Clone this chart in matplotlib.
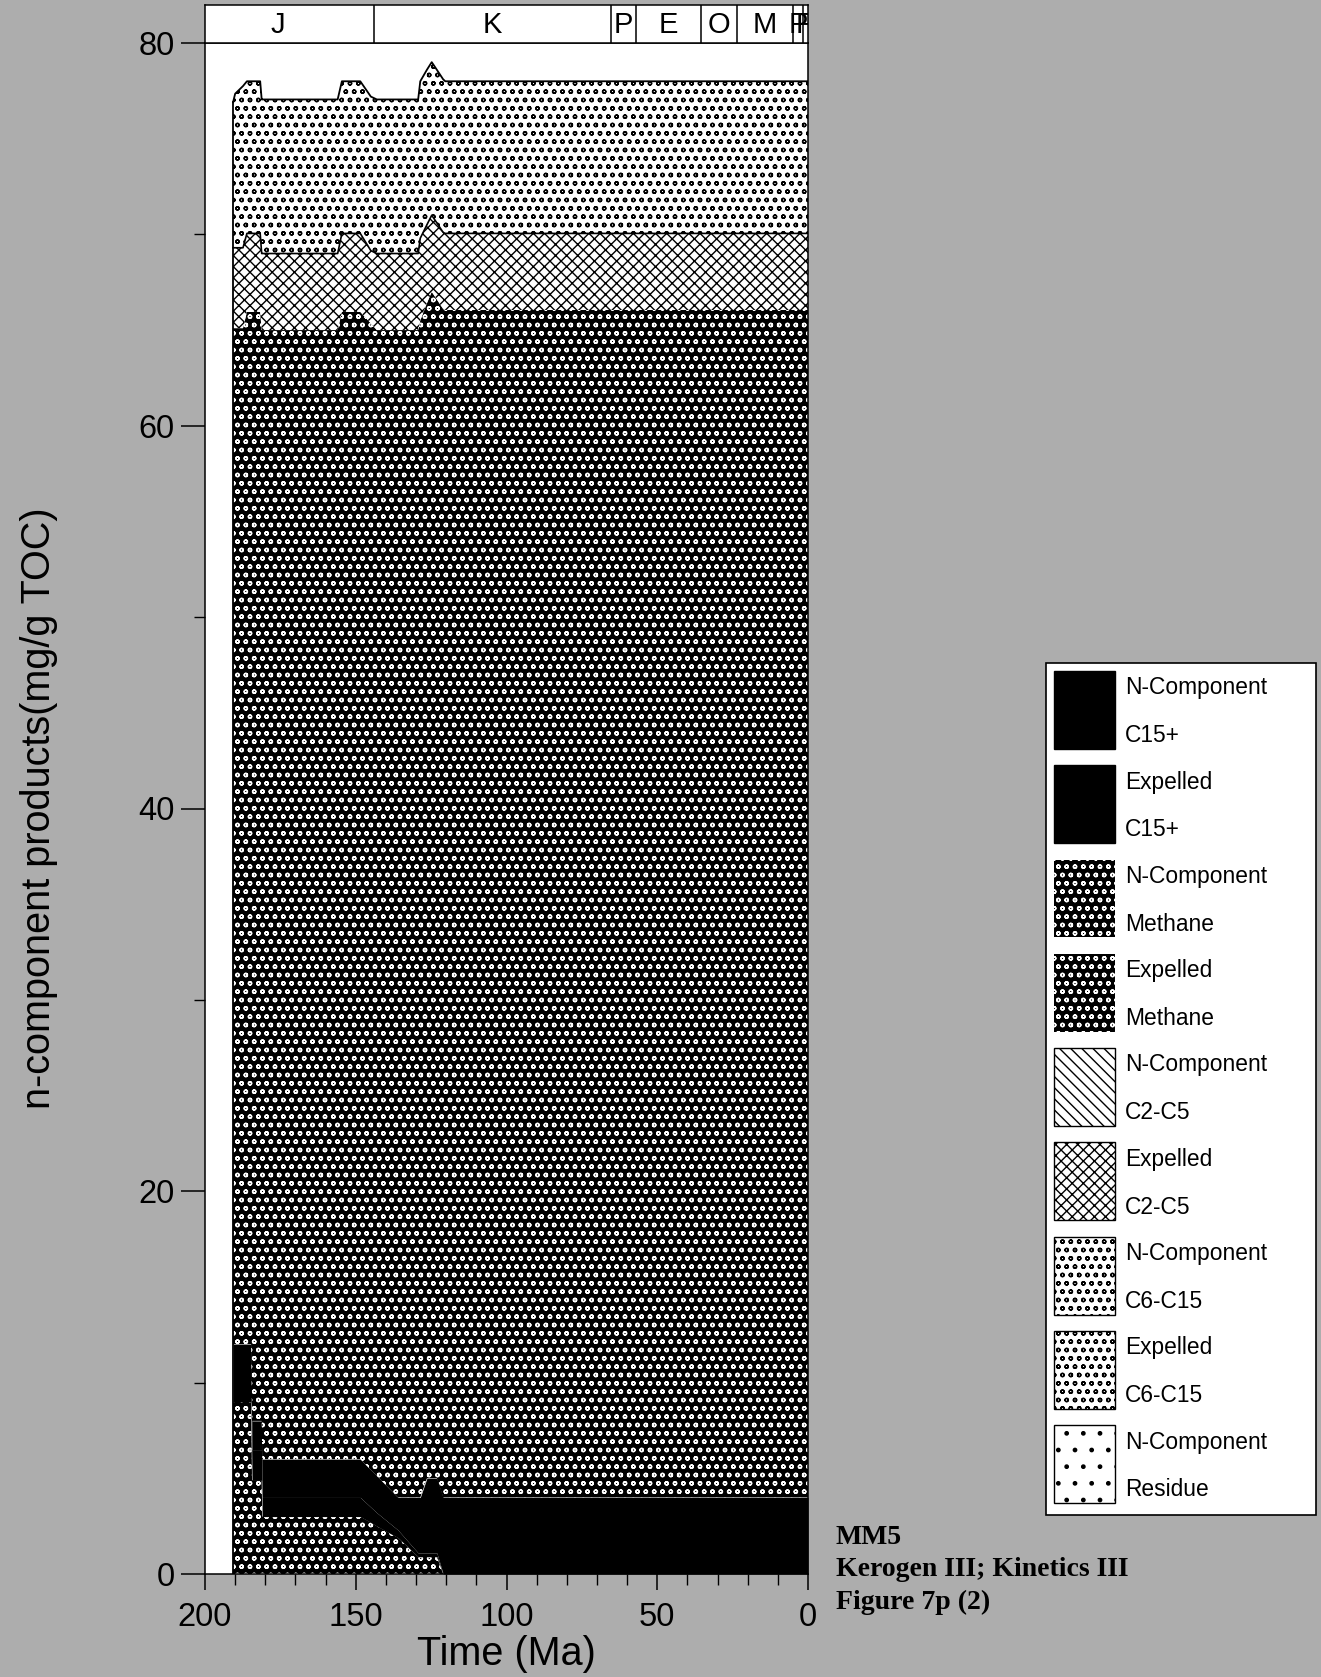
import numpy as np
import matplotlib
matplotlib.use("Agg")
import matplotlib.pyplot as plt
from matplotlib.patches import Patch, Rectangle
from matplotlib.legend_handler import HandlerPatch
from matplotlib.ticker import MultipleLocator

W, H = 1321, 1677
BG = "#adadad"

plt.rcParams["font.family"] = ["Liberation Sans", "DejaVu Sans"]
plt.rcParams["hatch.linewidth"] = 1.0

# ---------------------------------------------------------------- data
# burial time nodes (Ma before present)
time_ma = np.array([190.7, 190.0, 187.4, 186.1, 184.7, 184.4, 181.7, 181.2,
                    181.0, 156.0, 154.6, 148.5, 145.0, 143.0, 136.0, 129.3,
                    128.6, 126.4, 124.8, 123.1, 121.0, 120.3, 0.0])

# product amounts per component (mg/g TOC), stacked bottom -> top
ncomp_methane = np.array([9.0, 9.0, 9.0, 9.0, 9.0, 4.9, 4.9, 4.9,
                          3.0, 3.0, 3.0, 3.0, 2.69, 2.5, 1.9, 0.9,
                          0.9, 0.9, 0.9, 0.9, 0.0, 0.0, 0.0])
ncomp_c15 = np.array([3.0, 3.0, 3.0, 3.0, 3.0, 1.6, 1.6, 1.6,
                      1.0, 1.0, 1.0, 1.0, 0.8, 0.7, 0.4, 0.2,
                      0.2, 0.2, 0.2, 0.2, 0.0, 0.0, 0.0])
expelled_c15 = np.array([0.0, 0.0, 0.0, 0.0, 0.0, 1.5, 1.5, 1.5,
                         2.0, 2.0, 2.0, 2.0, 1.95, 1.92, 1.7, 2.9,
                         2.9, 3.9, 3.9, 3.9, 4.0, 4.0, 4.0])
expelled_methane = np.array([53.1, 53.1, 53.1, 53.95, 53.95, 57.95, 57.95, 57.0,
                             59.0, 59.0, 59.95, 59.95, 59.91, 59.88, 61.0, 61.0,
                             61.5, 61.4, 62.0, 61.6, 62.1, 62.05, 62.05])
expelled_c2c5 = np.array([4.2, 4.2, 4.2, 4.1, 4.1, 4.1, 4.1, 4.0,
                          4.0, 4.0, 4.1, 4.1, 3.8, 4.0, 4.0, 4.0,
                          4.3, 4.1, 4.0, 4.0, 4.0, 4.0, 4.0])
expelled_c6c15 = np.array([7.6, 8.05, 8.45, 7.95, 7.95, 7.95, 7.95, 8.05,
                           8.05, 8.05, 7.95, 7.95, 8.05, 8.05, 8.05, 8.05,
                           8.2, 8.1, 8.0, 8.0, 8.0, 7.95, 7.95])

# geological periods / epochs for the time header
period_labels = ["J", "K", "P", "E", "O", "M", "P", "P"]
period_bounds = [208.0, 144.0, 65.5, 57.0, 35.5, 23.5, 5.0, 1.6, 0.0]

# ---------------------------------------------------------------- styles
STYLES = {
    "c15":     dict(facecolor="black", edgecolor="black", hatch=None),
    "methane": dict(facecolor="black", edgecolor="white", hatch="oo"),
    "c2c5_n":  dict(facecolor="white", edgecolor="black", hatch="\\\\\\"),
    "c2c5_e":  dict(facecolor="white", edgecolor="black", hatch="xxx"),
    "c6c15":   dict(facecolor="white", edgecolor="black", hatch="oo"),
    "residue": dict(facecolor="white", edgecolor="black", hatch="."),
}

stack = [
    (ncomp_methane, "methane"),
    (ncomp_c15, "c15"),
    (expelled_c15, "c15"),
    (expelled_methane, "methane"),
    (expelled_c2c5, "c2c5_e"),
    (expelled_c6c15, "c6c15"),
]

legend_entries = [
    ("N-Component\nC15+", "c15"),
    ("Expelled\nC15+", "c15"),
    ("N-Component\nMethane", "methane"),
    ("Expelled\nMethane", "methane"),
    ("N-Component\nC2-C5", "c2c5_n"),
    ("Expelled\nC2-C5", "c2c5_e"),
    ("N-Component\nC6-C15", "c6c15"),
    ("Expelled\nC6-C15", "c6c15"),
    ("N-Component\nResidue", "residue"),
]


class TallSwatch(HandlerPatch):
    """Legend swatch taller than the handle box, centred on it."""

    def create_artists(self, legend, orig_handle, xdescent, ydescent,
                       width, height, fontsize, trans):
        tall = 3.42 * fontsize
        yc = height / 2 - ydescent + 0.19 * fontsize
        x0 = -xdescent - 0.23 * fontsize
        p = Rectangle(xy=(x0, yc - tall / 2), width=width, height=tall)
        self.update_prop(p, orig_handle, legend)
        p.set_transform(trans)
        return [p]


# ---------------------------------------------------------------- figure
fig = plt.figure(figsize=(W / 100, H / 100), dpi=100, facecolor=BG)
ax = fig.add_axes([205 / W, 1 - 1574 / H, 603 / W, 1531 / H])
ax.set_facecolor("white")

base = np.zeros_like(time_ma)
tops = []
for values, key in stack:
    top = base + values
    st = STYLES[key]
    ax.fill_between(time_ma, base, top, facecolor=st["facecolor"],
                    edgecolor=st["edgecolor"], hatch=st["hatch"], linewidth=0)
    tops.append(top)
    base = top

# outlines of the light-pattern bands
ax.plot(time_ma, tops[4], color="black", lw=1.2)
ax.plot(time_ma, tops[5], color="black", lw=1.3)
ax.plot([time_ma[0], time_ma[0]], [0, tops[5][0]], color="black", lw=1.3)

ax.set_xlim(200, 0)
ax.set_ylim(0, 80)
ax.xaxis.set_major_locator(MultipleLocator(50))
ax.xaxis.set_minor_locator(MultipleLocator(10))
ax.yaxis.set_major_locator(MultipleLocator(20))
ax.yaxis.set_minor_locator(MultipleLocator(10))
ax.tick_params(axis="y", which="major", length=17, width=1.1, pad=5,
               labelsize=23.5, direction="out")
ax.tick_params(axis="x", which="major", length=11.5, width=1.1, pad=9,
               labelsize=23.5, direction="out")
ax.tick_params(which="minor", length=8, width=1.0, direction="out")
for sp in ax.spines.values():
    sp.set_linewidth(1.1)

ax.set_ylabel("n-component products(mg/g TOC)", fontsize=28.5, va="center")
ax.yaxis.set_label_coords(-0.276, 0.5)
ax.set_xlabel("Time (Ma)", fontsize=28.5, va="center")
ax.xaxis.set_label_coords(0.5, -0.052)

# time-scale header
hx = fig.add_axes([205 / W, 1 - 43 / H, 603 / W, 38 / H])
hx.set_facecolor("white")
hx.set_xlim(200, 0)
hx.set_ylim(0, 1)
hx.set_xticks([])
hx.set_yticks([])
for sp in hx.spines.values():
    sp.set_linewidth(1.1)
for b in period_bounds[1:-1]:
    hx.axvline(b, color="black", lw=1.1)
for lab, a, b in zip(period_labels, period_bounds[:-1], period_bounds[1:]):
    hx.text((a + b) / 2, 0.47, lab, ha="center", va="center", fontsize=21,
            clip_on=True)

# legend
handles = []
for label, key in legend_entries:
    st = STYLES[key]
    lw = 0 if key == "methane" else 1.0
    handles.append(Patch(facecolor=st["facecolor"], edgecolor=st["edgecolor"],
                         hatch=st["hatch"], linewidth=lw, label=label))
leg = fig.legend(handles=handles, loc="upper left",
                 bbox_to_anchor=(1046 / W, 1 - 1513 / H, 270 / W, 850 / H),
                 mode="expand", borderaxespad=0, frameon=True, fancybox=False,
                 edgecolor="black", framealpha=1, fontsize=16.4,
                 handlelength=2.68, handleheight=3.42, labelspacing=1.03,
                 handletextpad=0.22, borderpad=0.58,
                 handler_map={Patch: TallSwatch()})
leg.get_frame().set_linewidth(1.2)
for t in leg.get_texts():
    t.set_linespacing(2.38)

# caption block
caption = ["MM5", "Kerogen III; Kinetics III", "Figure 7p (2)"]
for i, line in enumerate(caption):
    fig.text(836 / W, 1 - (1537 + 32.5 * i) / H, line, ha="left", va="center",
             fontsize=20, fontweight="bold", family="Liberation Serif")

fig.savefig("out.png", dpi=100, facecolor=BG)
